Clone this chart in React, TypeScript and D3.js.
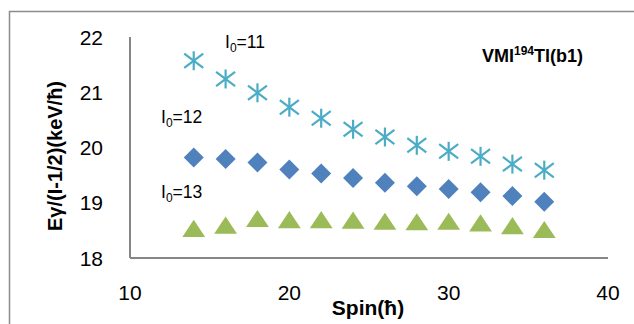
import React from "react";
import * as d3 from "d3";

const spins = [14, 16, 18, 20, 22, 24, 26, 28, 30, 32, 34, 36];
const seriesI11 = [21.57, 21.24, 20.99, 20.73, 20.53, 20.33, 20.19, 20.04, 19.93, 19.84, 19.7, 19.59];
const seriesI12 = [19.82, 19.79, 19.73, 19.6, 19.53, 19.45, 19.36, 19.3, 19.25, 19.19, 19.12, 19.02];
const seriesI13 = [18.52, 18.58, 18.7, 18.68, 18.68, 18.67, 18.65, 18.64, 18.65, 18.62, 18.57, 18.5];
const xTicks = [10, 20, 30, 40];
const yTicks = [18, 19, 20, 21, 22];

const W = 634;
const H = 324;
const FONT = "'Liberation Sans', 'DejaVu Sans', sans-serif";

export default function App() {
  const x = d3.scaleLinear().domain([10, 40]).range([130, 608]);
  const y = d3.scaleLinear().domain([18, 22]).range([258, 37]);
  const r = 9.5;
  const triPath = d3.symbol().type(d3.symbolTriangle).size(170)() as string;

  return (
    <svg
      width={W}
      height={H}
      style={{ position: "absolute", left: 0, top: 0, background: "#fff" }}
      fontFamily={FONT}
    >
      <rect x={0} y={0} width={W} height={H} fill="#fff" />
      <rect x={9.5} y={11.5} width={W + 20} height={H + 20} fill="none" stroke="#8c8c8c" strokeWidth={1.5} />

      {/* axes */}
      <line x1={x(10)} x2={x(10)} y1={y(22)} y2={y(18)} stroke="#868686" strokeWidth={2} />
      <line x1={x(10)} x2={x(40)} y1={y(18)} y2={y(18)} stroke="#868686" strokeWidth={2} />

      {yTicks.map((t) => (
        <text key={"y" + t} x={103} y={y(t)} dy="0.36em" textAnchor="end" fontSize={21} fill="#000">
          {t}
        </text>
      ))}
      {xTicks.map((t) => (
        <text key={"x" + t} x={x(t)} y={292} dy="0.36em" textAnchor="middle" fontSize={21} fill="#000">
          {t}
        </text>
      ))}

      {/* I0=13 triangles */}
      {spins.map((s, i) => (
        <path
          key={"t" + s}
          d={triPath}
          transform={`translate(${x(s)},${y(seriesI13[i]) + 2}) scale(1.15,1)`}
          fill="#9BBB59"
        />
      ))}
      {/* I0=12 diamonds */}
      {spins.map((s, i) => {
        const cx = x(s);
        const cy = y(seriesI12[i]);
        const d = 10;
        return (
          <path
            key={"d" + s}
            d={`M${cx},${cy - d}L${cx + d},${cy}L${cx},${cy + d}L${cx - d},${cy}Z`}
            fill="#4F81BD"
          />
        );
      })}
      {/* I0=11 stars */}
      {spins.map((s, i) => {
        const cx = x(s);
        const cy = y(seriesI11[i]);
        return (
          <g key={"s" + s} stroke="#4BACC6" strokeWidth={2.2}>
            <line x1={cx} x2={cx} y1={cy - r} y2={cy + r} />
            <line x1={cx - r} x2={cx + r} y1={cy - r * 0.75} y2={cy + r * 0.75} />
            <line x1={cx - r} x2={cx + r} y1={cy + r * 0.75} y2={cy - r * 0.75} />
          </g>
        );
      })}

      {/* annotations */}
      <text x={225} y={48} fontSize={17.5} fill="#000">
        I<tspan fontSize={12} dy={4}>0</tspan><tspan dy={-4}>=11</tspan>
      </text>
      <text x={161} y={123} fontSize={17.5} fill="#000">
        I<tspan fontSize={12} dy={4}>0</tspan><tspan dy={-4}>=12</tspan>
      </text>
      <text x={161} y={198} fontSize={17.5} fill="#000">
        I<tspan fontSize={12} dy={4}>0</tspan><tspan dy={-4}>=13</tspan>
      </text>
      <text x={482} y={62} fontSize={18} fontWeight="bold" fill="#000">
        VMI<tspan fontSize={12} dy={-7}>194</tspan><tspan dy={7}>Tl(b1)</tspan>
      </text>

      {/* axis titles */}
      <text x={368} y={315} textAnchor="middle" fontSize={21} fontWeight="bold" fill="#000">
        Spin(ħ)
      </text>
      <text
        transform={`translate(62,156) rotate(-90)`}
        textAnchor="middle"
        fontSize={20}
        fontWeight="bold"
        fill="#000"
      >
        Eγ/(I-1/2)(keV/ħ)
      </text>
    </svg>
  );
}
